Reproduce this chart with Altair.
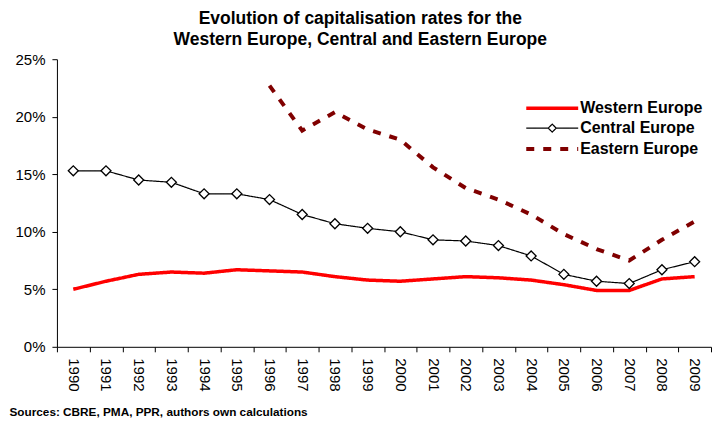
import altair as alt
import pandas as pd

years = [str(y) for y in range(1990, 2010)]
western = [5.0, 5.7, 6.3, 6.5, 6.4, 6.7, 6.6, 6.5, 6.1, 5.8, 5.7, 5.9, 6.1, 6.0, 5.8, 5.4, 4.9, 4.9, 5.9, 6.1]
central = [15.3, 15.3, 14.5, 14.3, 13.3, 13.3, 12.8, 11.5, 10.7, 10.3, 10.0, 9.3, 9.2, 8.8, 7.9, 6.3, 5.7, 5.5, 6.7, 7.4]
eastern = [None] * 6 + [22.7, 18.8, 20.4, 18.9, 18.0, 15.6, 13.8, 12.8, 11.5, 9.8, 8.5, 7.5, 9.3, 10.9]
series = ["Western Europe", "Central Europe", "Eastern Europe"]

rows = []
for name, vals in zip(series, [western, central, eastern]):
    for y, v in zip(years, vals):
        if v is not None:
            rows.append({"year": y, "value": v, "series": name})
df = pd.DataFrame(rows)

FONT = "Liberation Sans"
color_scale = alt.Scale(domain=series, range=["#FF0000", "#000000", "#800000"])
dash_scale = alt.Scale(domain=series, range=[[1, 0], [1, 0], [8, 9]])
width_scale = alt.Scale(type="ordinal", domain=series, range=[3.5, 1.2, 4])
p_line = "M-2.6,0H2.6"
p_diam = "M-2.6,0H-0.4M0.4,0H2.6M0,-0.4L0.4,0L0,0.4L-0.4,0Z"
shape_scale = alt.Scale(domain=series, range=[p_line, p_diam, p_line])

x_enc = alt.X(
    "year:O",
    bandPosition=0.5,
    scale=alt.Scale(type="band", paddingInner=0, paddingOuter=0),
    axis=alt.Axis(
        labelAngle=90, tickBand="extent", labelPadding=6, tickSize=5,
        title="Sources: CBRE, PMA, PPR, authors own calculations",
        titleAnchor="start", titleAlign="left", titleX=-48, titleY=69,
        titleBaseline="alphabetic", titleFontWeight="bold", titleFontSize=11.8,
        titleFont=FONT, titleColor="black",
    ),
)
y_enc = alt.Y(
    "value:Q",
    scale=alt.Scale(domain=[0, 25], nice=False),
    axis=alt.Axis(values=[0, 5, 10, 15, 20, 25], labelExpr="datum.value + '%'",
                  title=None, grid=False, labelPadding=7, tickSize=5),
)

base = alt.Chart(df).encode(x=x_enc, y=y_enc)

leg = alt.Legend(title=None, orient="none", legendX=484, legendY=37,
                 labelFont=FONT, labelFontSize=16, labelFontWeight="bold",
                 labelColor="black", symbolSize=400, labelOffset=16, rowPadding=1)

lines = base.mark_line().encode(
    color=alt.Color("series:N", scale=color_scale, legend=leg),
    strokeDash=alt.StrokeDash("series:N", scale=dash_scale, legend=leg),
    strokeWidth=alt.StrokeWidth("series:N", scale=width_scale, legend=leg),
    detail="series:N",
)

points = base.transform_filter(alt.datum.series == "Central Europe").mark_point(
    shape="diamond", filled=True, fill="white", stroke="black", strokeWidth=1.3,
    size=100, opacity=1,
)

legend_layer = base.transform_filter("datum.value < 0").mark_point(filled=False, opacity=1).encode(
    color=alt.Color("series:N", scale=color_scale, legend=leg),
    shape=alt.Shape("series:N", scale=shape_scale, legend=leg),
    strokeDash=alt.StrokeDash("series:N", scale=dash_scale, legend=leg),
    strokeWidth=alt.StrokeWidth("series:N", scale=width_scale, legend=leg),
)

chart = alt.layer(lines, points, legend_layer).properties(
    width=655, height=288, background="white",
    padding={"left": 1, "top": 2, "right": 0, "bottom": 0},
    title=alt.Title(
        text=["Evolution of capitalisation rates for the",
              "Western Europe, Central and Eastern Europe"],
        font=FONT, fontSize=17.5, fontWeight="bold", color="black",
        anchor="middle", frame="bounds", lineHeight=20.5, offset=4,
    ),
).configure_view(stroke=None).configure_axis(
    labelFont=FONT, labelFontSize=15, labelColor="black",
    domainColor="black", tickColor="black", domainWidth=1, tickWidth=1,
)

chart.save("out.html", embed_options={"renderer": "svg", "actions": False})
